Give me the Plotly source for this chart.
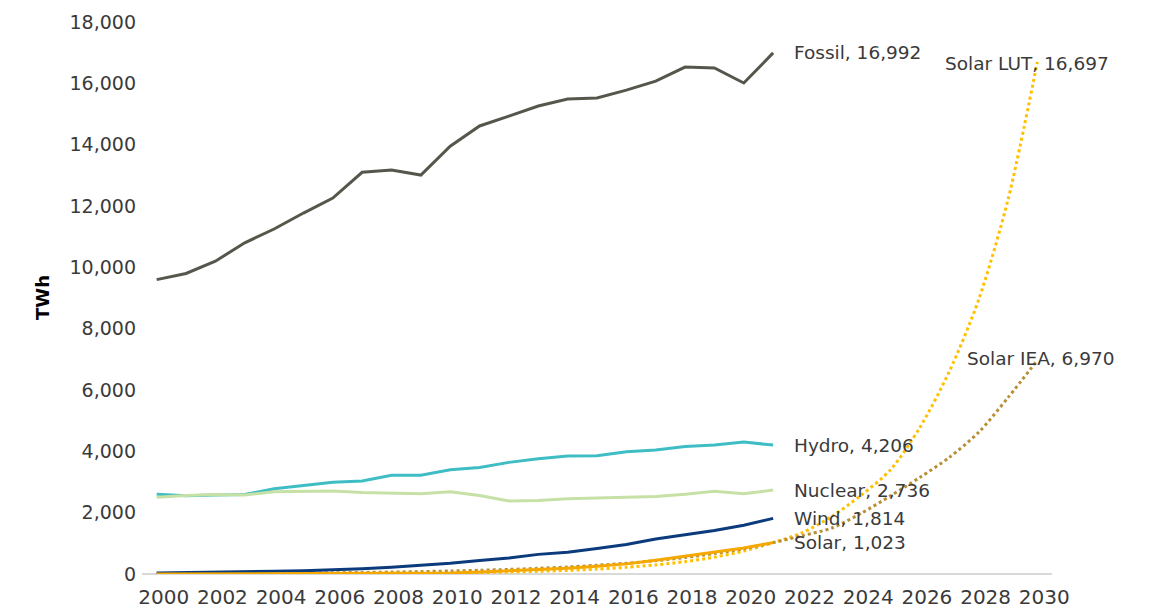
import plotly.graph_objects as go

years = list(range(2000, 2022))
proj_years = list(range(2000, 2031))

fossil = [9600, 9800, 10200, 10800, 11250, 11770, 12260, 13100, 13170, 13010, 13950,
          14610, 14930, 15260, 15490, 15520, 15780, 16070, 16530, 16500, 16010, 16992]
hydro = [2600, 2550, 2580, 2590, 2780, 2880, 2990, 3030, 3220, 3220, 3400,
         3470, 3640, 3760, 3850, 3860, 3990, 4040, 4160, 4210, 4300, 4206]
nuclear = [2500, 2560, 2590, 2580, 2680, 2690, 2710, 2660, 2650, 2620, 2680,
           2560, 2380, 2400, 2450, 2480, 2510, 2530, 2600, 2700, 2620, 2736]
wind = [30, 40, 55, 70, 90, 110, 135, 170, 220, 280, 350,
        440, 520, 640, 710, 830, 960, 1140, 1270, 1420, 1590, 1814]
solar = [1, 2, 2, 3, 4, 5, 6, 8, 12, 20, 32,
         63, 100, 135, 190, 255, 330, 445, 575, 700, 850, 1023]
solar_lut = [2, 2, 3, 4, 5, 7, 10, 13, 18, 25, 34,
             46, 63, 86, 117, 159, 217, 296, 403, 550, 750, 1023,
             1350, 1880, 2570, 3400, 4780, 6600, 8940, 12200, 16697]
solar_iea = [12, 14, 18, 22, 27, 34, 41, 51, 64, 79, 98,
             121, 150, 185, 229, 284, 351, 435, 539, 667, 826, 1023,
             1250, 1500, 1980, 2550, 3150, 3800, 4620, 5750, 6970]

tick_years = list(range(2000, 2031, 2))

FONT = "'DejaVu Sans', 'Open Sans', sans-serif"
TXT = "#3a3a3a"

fig = go.Figure()

def add_line(x, y, color, dash="solid", width=3, shape="linear"):
    fig.add_trace(go.Scatter(x=x, y=y, mode="lines",
                             line=dict(color=color, width=width, dash=dash,
                                       shape=shape, smoothing=0.8),
                             showlegend=False, hoverinfo="skip"))

add_line(proj_years, solar_lut, "#ffc000", "dot", 3, "spline")
add_line(proj_years, solar_iea, "#b88f35", "dot", 3, "spline")
add_line(years, fossil, "#56574c")
add_line(years, hydro, "#3ebdc4")
add_line(years, nuclear, "#c6e1a6")
add_line(years, wind, "#0b3b7c")
add_line(years, solar, "#f5a800")

labels = [
    ("Fossil", years[-1], fossil[-1], "left", 19, 0),
    ("Hydro", years[-1], hydro[-1], "left", 19, 0),
    ("Nuclear", years[-1], nuclear[-1], "left", 19, 0),
    ("Wind", years[-1], wind[-1], "left", 19, 0),
    ("Solar", years[-1], solar[-1], "left", 19, 0),
    ("Solar LUT", proj_years[-1], solar_lut[-1], "center", -10, -2),
    ("Solar IEA", proj_years[-1], solar_iea[-1], "center", 4, 2),
]
for name, xv, yv, anchor, xs, ys in labels:
    fig.add_annotation(x=xv, y=yv, text=f"{name}, {yv:,}", showarrow=False,
                       xanchor=anchor, yanchor="middle", xshift=xs, yshift=ys,
                       font=dict(family=FONT, size=18.5, color=TXT))

fig.add_annotation(x=0, y=0.5, xref="paper", yref="paper", xshift=-100,
                   text="<b>TWh</b>", textangle=-90, showarrow=False,
                   xanchor="center", yanchor="middle",
                   font=dict(family=FONT, size=18, color="#000000"))

# page body has an 8px default margin; margins compensate so the plot area
# sits at x 142..1052, y 22..574 of the window
fig.update_layout(
    width=1155, height=612,
    margin=dict(l=134, r=111, t=14, b=46),
    paper_bgcolor="white", plot_bgcolor="white",
    font=dict(family=FONT, size=19, color=TXT),
    xaxis=dict(range=[1999.5, 2030.5], tickvals=tick_years,
               ticktext=[str(t) for t in tick_years],
               showgrid=False, zeroline=False, showline=False,
               ticks="", automargin=False, ticklabelstandoff=9,
               ticklabelshift=7,
               tickfont=dict(family=FONT, size=20, color=TXT)),
    yaxis=dict(range=[0, 18000], tickvals=list(range(0, 18001, 2000)),
               tickformat=",d", showgrid=False, zeroline=True,
               zerolinecolor="#d9d9d9", zerolinewidth=2,
               showline=False, ticks="", automargin=False,
               ticklabelstandoff=5,
               tickfont=dict(family=FONT, size=19, color=TXT)),
)

fig.write_html("out.html")
